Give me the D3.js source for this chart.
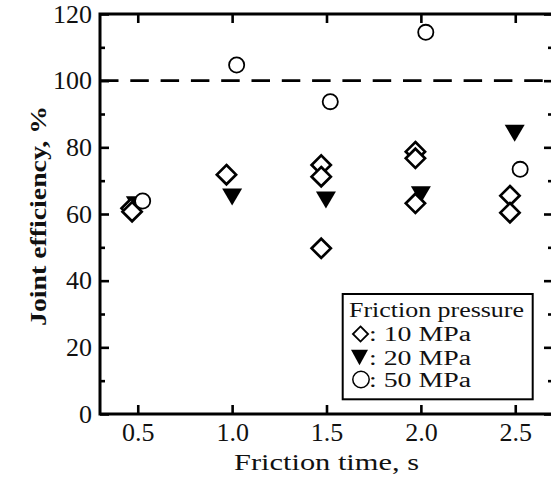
<!DOCTYPE html>
<html>
<head>
    <title>Joint efficiency vs friction time</title>
    <style>
        body { margin: 0; background: #fff; }
        svg, svg text { font-family: 'Liberation Serif', 'Times New Roman', serif; }
    </style>
    <script src="https://d3js.org/d3.v7.min.js"></script>
</head>
<body>
    <div id="chart"></div>
    <script>
        // data
        const xTicks = [0.5, 1.0, 1.5, 2.0, 2.5];
        const yTicks = [0, 20, 40, 60, 80, 100, 120];
        const yMinor = [10, 30, 50, 70, 90, 110];

        // 10 MPa (open diamonds)
        const time10 = [0.465, 0.47, 0.97, 1.472, 1.472, 1.472, 1.971, 1.971, 1.971, 2.472, 2.472];
        const eff10 = [61.7, 60.7, 71.8, 74.7, 71.2, 49.7, 78.7, 76.7, 63.2, 65.5, 60.4];
        // 20 MPa (filled triangles)
        const time20 = [0.49, 1.0, 1.497, 2.0, 2.497];
        const eff20 = [62.8, 65.1, 64.2, 65.8, 84.2];
        // 50 MPa (open circles)
        const time50 = [0.526, 1.024, 1.52, 2.026, 2.526];
        const eff50 = [63.9, 104.7, 93.7, 114.5, 73.4];

        const legendTitle = "Friction pressure";
        const legendLabels = [": 10 MPa", ": 20 MPa", ": 50 MPa"];
        const xTitle = "Friction time, s";
        const yTitle = "Joint efficiency, %";

        const [W, H] = [551, 479];
        const plot = {left: 100, top: 14, right: 553, bottom: 414};
        const serif = "'Liberation Serif', 'Times New Roman', serif";

        const svg = d3.select("#chart").append("svg")
            .attr("width", W)
            .attr("height", H);

        const x = d3.scaleLinear().domain([0.3, 2.7]).range([plot.left, plot.right]);
        const y = d3.scaleLinear().domain([0, 120]).range([plot.bottom, plot.top]);

        // axes: all ticks point inward
        const gLeft = svg.append("g").attr("transform", `translate(${plot.left},0)`)
            .call(d3.axisLeft(y).tickValues(yTicks).tickSize(-9).tickSizeOuter(0).tickPadding(8));
        const gLeftMinor = svg.append("g").attr("transform", `translate(${plot.left},0)`)
            .call(d3.axisLeft(y).tickValues(yMinor).tickSize(-5).tickSizeOuter(0).tickFormat(""));
        const gRight = svg.append("g").attr("transform", `translate(${plot.right},0)`)
            .call(d3.axisRight(y).tickValues(yTicks).tickSize(-9).tickSizeOuter(0).tickFormat(""));
        const gRightMinor = svg.append("g").attr("transform", `translate(${plot.right},0)`)
            .call(d3.axisRight(y).tickValues(yMinor).tickSize(-5).tickSizeOuter(0).tickFormat(""));
        const gBottom = svg.append("g").attr("transform", `translate(0,${plot.bottom})`)
            .call(d3.axisBottom(x).tickValues(xTicks).tickSize(-9).tickSizeOuter(0).tickPadding(9)
                .tickFormat(d3.format(".1f")));
        const gTop = svg.append("g").attr("transform", `translate(0,${plot.top})`)
            .call(d3.axisTop(x).tickValues(xTicks).tickSize(-9).tickSizeOuter(0).tickFormat(""));

        [gLeft, gLeftMinor, gRight, gRightMinor, gBottom, gTop].forEach(g => {
            g.attr("font-family", serif).attr("font-size", 26);
            g.select(".domain").remove();
            g.selectAll(".tick line").attr("stroke", "#000").attr("stroke-width", 2.6);
            g.selectAll(".tick text").attr("fill", "#111");
        });

        // frame
        svg.append("rect")
            .attr("x", plot.left).attr("y", plot.top)
            .attr("width", plot.right - plot.left)
            .attr("height", plot.bottom - plot.top)
            .attr("fill", "none")
            .attr("stroke", "#000")
            .attr("stroke-width", 3);

        // 100 % reference line
        svg.append("line")
            .attr("x1", plot.left).attr("x2", plot.right)
            .attr("y1", y(100)).attr("y2", y(100))
            .attr("stroke", "#000")
            .attr("stroke-width", 2.6)
            .attr("stroke-dasharray", "18.5,11.8");

        // markers
        const diamond = s => `M0,${-s}L${s},0L0,${s}L${-s},0Z`;
        const triangle = (w, h) => `M${-w / 2},${-h / 2}L${w / 2},${-h / 2}L0,${h / 2}Z`;

        svg.append("g").selectAll("path")
            .data(d3.zip(time20, eff20))
            .join("path")
            .attr("d", triangle(20, 17))
            .attr("transform", d => `translate(${x(d[0])},${y(d[1])})`)
            .attr("fill", "#000");

        svg.append("g").selectAll("path")
            .data(d3.zip(time10, eff10))
            .join("path")
            .attr("d", diamond(9.6))
            .attr("transform", d => `translate(${x(d[0])},${y(d[1])})`)
            .attr("fill", "#fff")
            .attr("stroke", "#000")
            .attr("stroke-width", 2.7)
            .attr("stroke-linejoin", "miter");

        svg.append("g").selectAll("circle")
            .data(d3.zip(time50, eff50))
            .join("circle")
            .attr("cx", d => x(d[0]))
            .attr("cy", d => y(d[1]))
            .attr("r", 7.6)
            .attr("fill", "#fff")
            .attr("stroke", "#000")
            .attr("stroke-width", 1.8);

        // axis titles
        svg.append("text")
            .attr("x", (plot.left + plot.right) / 2)
            .attr("y", 470)
            .attr("text-anchor", "middle")
            .attr("font-size", 23)
            .attr("fill", "#111")
            .attr("textLength", 185)
            .attr("lengthAdjust", "spacingAndGlyphs")
            .text(xTitle);

        svg.append("text")
            .attr("transform", `translate(46,${(plot.top + plot.bottom) / 2 + 2}) rotate(-90)`)
            .attr("text-anchor", "middle")
            .attr("font-size", 23)
            .attr("font-weight", "bold")
            .attr("fill", "#111")
            .attr("textLength", 220)
            .attr("lengthAdjust", "spacingAndGlyphs")
            .text(yTitle);

        // legend
        const legend = svg.append("g");
        legend.append("rect")
            .attr("x", 342.7).attr("y", 294)
            .attr("width", 190).attr("height", 105.3)
            .attr("fill", "#fff")
            .attr("stroke", "#000")
            .attr("stroke-width", 2);

        legend.append("text")
            .attr("x", 349).attr("y", 317)
            .attr("font-size", 21)
            .attr("fill", "#111")
            .attr("textLength", 175)
            .attr("lengthAdjust", "spacingAndGlyphs")
            .text(legendTitle);

        const rowY = [334, 357.5, 379.5];
        legend.append("path")
            .attr("d", diamond(7.6))
            .attr("transform", `translate(360.5,${rowY[0]})`)
            .attr("fill", "#fff").attr("stroke", "#000").attr("stroke-width", 1.8);
        legend.append("path")
            .attr("d", triangle(17, 15.5))
            .attr("transform", `translate(359.5,${rowY[1]})`)
            .attr("fill", "#000");
        legend.append("circle")
            .attr("cx", 361).attr("cy", rowY[2]).attr("r", 8.2)
            .attr("fill", "#fff").attr("stroke", "#000").attr("stroke-width", 1.5);

        legend.selectAll("text.row")
            .data(legendLabels)
            .join("text")
            .attr("class", "row")
            .attr("x", 369)
            .attr("y", (d, i) => rowY[i] + 7)
            .attr("font-size", 20)
            .attr("fill", "#111")
            .attr("textLength", 102)
            .attr("lengthAdjust", "spacingAndGlyphs")
            .text(d => d);
    </script>
</body>
</html>
